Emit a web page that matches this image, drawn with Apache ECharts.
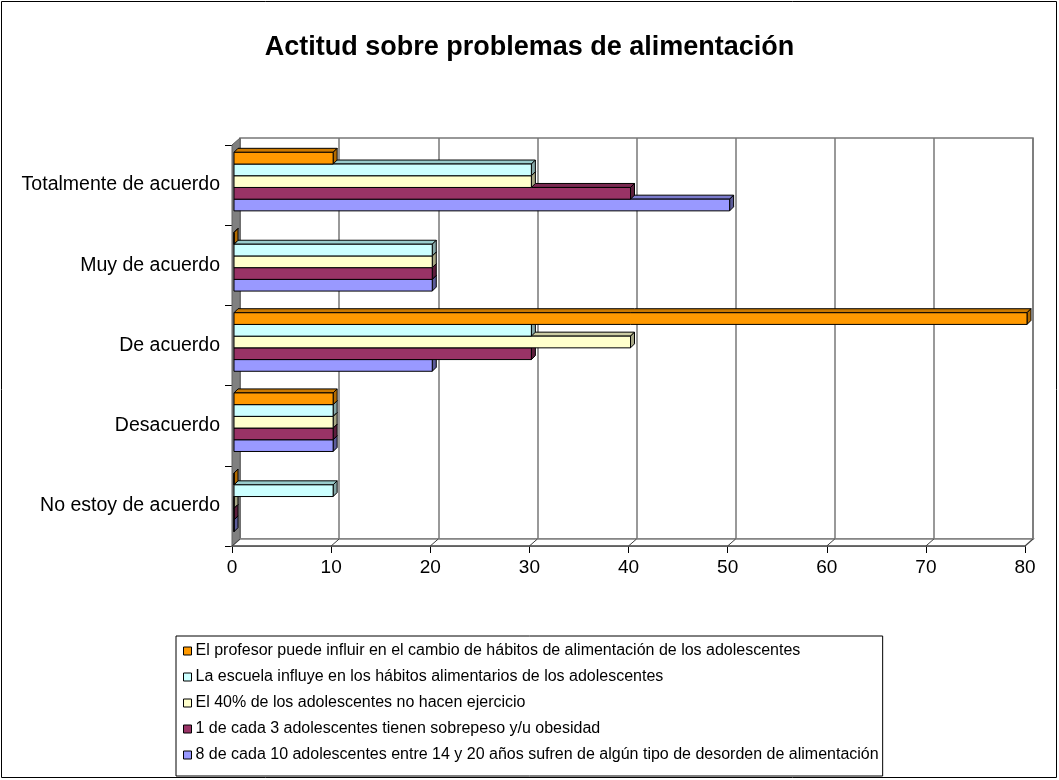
<!DOCTYPE html>
<html><head><meta charset="utf-8">
<script src="https://cdn.jsdelivr.net/npm/echarts@6/dist/echarts.min.js"></script>
<style>html,body{margin:0;padding:0;background:#fff}#c{width:1059px;height:780px}</style>
</head><body><div id="c"></div>
<script>
const categories = ['No estoy de acuerdo', 'Desacuerdo', 'De acuerdo', 'Muy de acuerdo', 'Totalmente de acuerdo'];
const seriesNames = [
  'El profesor puede influir en el cambio de hábitos de alimentación de los adolescentes',
  'La escuela influye en los hábitos alimentarios de los adolescentes',
  'El 40% de los adolescentes no hacen ejercicio',
  '1 de cada 3 adolescentes tienen sobrepeso y/u obesidad',
  '8 de cada 10 adolescentes entre 14 y 20 años sufren de algún tipo de desorden de alimentación'
];
const profesor  = [0, 10, 80, 0, 10];
const escuela   = [10, 10, 30, 20, 30];
const ejercicio = [0, 10, 40, 20, 30];
const sobrepeso = [0, 10, 30, 20, 40];
const desorden  = [0, 10, 20, 20, 50];
const xTicks = [0, 10, 20, 30, 40, 50, 60, 70, 80];

const seriesValues = [profesor, escuela, ejercicio, sobrepeso, desorden];
const fronts = ['#FF9900', '#CCFFFF', '#FFFFCC', '#993366', '#9999FF'];
const tops   = ['#CC7A00', '#99CCCC', '#CCCCA3', '#7A2952', '#7A7ACC'];
const sides  = ['#B36B00', '#85A6A6', '#A6A685', '#5C1F3D', '#5C5C99'];

const FONT = "'Liberation Sans', Arial, sans-serif";
const L = 232, R = 1025, T = 145, B = 546, DX = 8, DY = -7;
const SX = 2, SY = -3.5, DEPTH = 4, GROUP = 0.73;

function makeRender(idx) {
  return function (params, api) {
    const val = api.value(0), cat = api.value(1);
    const p0 = api.coord([0, cat]);
    const p1 = api.coord([val, cat]);
    const band = api.size([0, 1])[1];
    const bh = band * GROUP / 5;
    const y = p0[1] - 2.5 * bh + idx * bh + SY;
    const x0 = p0[0] + SX, x1 = p1[0] + SX;
    const d = DEPTH;
    return {
      type: 'group',
      children: [
        { type: 'polygon', shape: { points: [[x0, y], [x1, y], [x1 + d, y - d], [x0 + d, y - d]] },
          style: { fill: tops[idx], stroke: '#000', lineWidth: 1 } },
        { type: 'polygon', shape: { points: [[x1, y], [x1 + d, y - d], [x1 + d, y + bh - d], [x1, y + bh]] },
          style: { fill: sides[idx], stroke: '#000', lineWidth: 1 } },
        { type: 'rect', shape: { x: x0, y: y, width: x1 - x0, height: bh },
          style: { fill: fronts[idx], stroke: '#000', lineWidth: 1 } }
      ]
    };
  };
}

const chart = echarts.init(document.getElementById('c'), null, { renderer: 'canvas' });

const series = seriesValues.map((vals, idx) => ({
  type: 'custom',
  name: seriesNames[idx],
  xAxisIndex: 0, yAxisIndex: 0,
  z: 10 - idx,
  clip: false,
  itemStyle: { color: fronts[idx], borderColor: '#000', borderWidth: 1 },
  renderItem: makeRender(idx),
  encode: { x: 0, y: 1 },
  data: vals.map((v, j) => [v, j])
}));

chart.setOption({
  backgroundColor: '#fff',
  animation: false,
  title: {
    text: 'Actitud sobre problemas de alimentación',
    left: 'center', top: 29,
    textStyle: { fontFamily: FONT, fontSize: 27, fontWeight: 'bold', color: '#000' }
  },
  legend: {
    orient: 'vertical',
    left: 176, top: 636,
    padding: [7, 4, 13, 7],
    itemGap: 10,
    itemWidth: 8, itemHeight: 8,
    icon: 'rect',
    borderColor: '#000', borderWidth: 1,
    data: seriesNames,
    itemStyle: { borderColor: '#000', borderWidth: 1 },
    textStyle: { fontFamily: FONT, fontSize: 16, color: '#000', padding: [0, 0, 0, -1] }
  },
  grid: [
    { left: L, top: T, width: R - L, height: B - T, show: false },
    { left: L + DX, top: T + DY, width: R - L, height: B - T, show: true,
      borderColor: '#777', borderWidth: 1.5, backgroundColor: 'transparent' }
  ],
  xAxis: [
    { type: 'value', gridIndex: 0, min: 0, max: 80, interval: 10,
      axisLine: { show: true, lineStyle: { color: '#808080', width: 1 } },
      axisTick: { show: true, length: 7, lineStyle: { color: '#000' } },
      axisLabel: { fontFamily: FONT, fontSize: 19, color: '#000', margin: 12 },
      splitLine: { show: false } },
    { type: 'value', gridIndex: 1, min: 0, max: 80, interval: 10,
      axisLine: { show: false }, axisTick: { show: false }, axisLabel: { show: false },
      splitLine: { show: true, lineStyle: { color: '#777', width: 1.5 } } }
  ],
  yAxis: [
    { type: 'category', gridIndex: 0, data: categories, boundaryGap: true,
      axisLine: { show: true, lineStyle: { color: '#000', width: 1 } },
      axisTick: { show: true, length: 7, interval: 0, lineStyle: { color: '#000' } },
      axisLabel: { fontFamily: FONT, fontSize: 19.5, color: '#000', margin: 12 },
      splitLine: { show: false } },
    { type: 'category', gridIndex: 1, data: categories, show: false }
  ],
  series: series
});

// 3D walls (decoration) built from the axis scale
const xs = xTicks.map(v => chart.convertToPixel({ xAxisIndex: 0 }, v));
const graphics = [];
graphics.push({ type: 'polygon', z: 1, shape: { points: [[L, T], [L + DX, T + DY], [L + DX, B + DY], [L, B]] },
  style: { fill: '#808080', stroke: '#606060', lineWidth: 1 } });
graphics.push({ type: 'polygon', z: 1, shape: { points: [[L, B], [L + DX, B + DY], [R + DX, B + DY], [R, B]] },
  style: { fill: '#fff', stroke: '#808080', lineWidth: 1.5 } });
xs.forEach(px => {
  graphics.push({ type: 'line', z: 1, shape: { x1: px, y1: B, x2: px + DX, y2: B + DY },
    style: { stroke: '#404040', lineWidth: 1 } });
});
graphics.push({ type: 'line', z: 1, shape: { x1: L, y1: B, x2: R, y2: B }, style: { stroke: '#404040', lineWidth: 1 } });
graphics.push({ type: 'rect', z: 0, shape: { x: 1.5, y: 1.5, width: 1055, height: 776 },
  style: { fill: 'none', stroke: '#000', lineWidth: 1 } });
chart.setOption({ graphic: graphics });
</script>
</body></html>
